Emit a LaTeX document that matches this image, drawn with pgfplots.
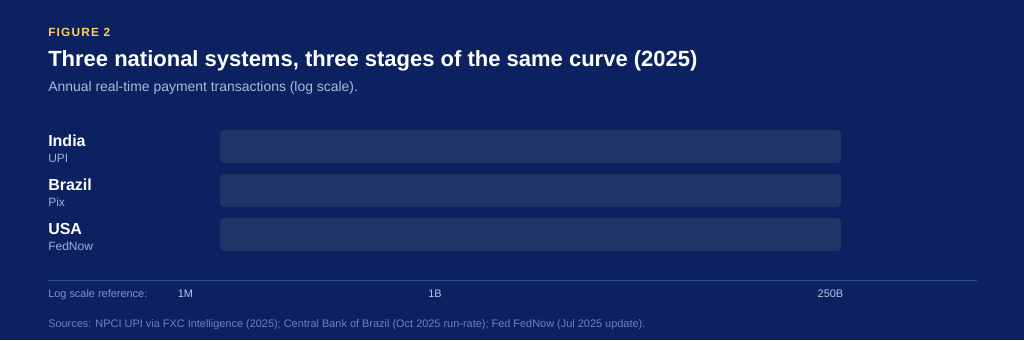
\documentclass[border=0pt]{standalone}
\usepackage{pgfplots}
\pgfplotsset{compat=1.18}
\usepackage{fontspec}
\setmainfont{Liberation Sans}
\definecolor{bg}{RGB}{12,33,96}
\definecolor{track}{RGB}{33,52,104}
\definecolor{fig}{RGB}{250,205,105}
\definecolor{sub}{RGB}{172,186,222}
\definecolor{lbl}{RGB}{160,176,215}
\definecolor{refc}{RGB}{130,148,198}
\definecolor{tickc}{RGB}{185,198,232}
\definecolor{src}{RGB}{112,130,185}
\definecolor{rule}{RGB}{52,78,140}
\begin{document}
\begin{tikzpicture}[x=0.75pt,y=-0.75pt]
\fill[bg] (0,0) rectangle (1024,340);
\begin{axis}[
  at={(165pt,-192.375pt)}, anchor=south west,
  scale only axis, width=465.75pt, height=99pt,
  xmin=0, xmax=100, ymin=-0.5, ymax=2.5, y dir=reverse,
  hide axis, clip=false,
]
\addplot[xbar, bar width=0.75, bar shift=0pt, fill=track, draw=none, rounded corners=3pt]
  coordinates {(100,0) (100,1) (100,2)};
\end{axis}
\node[anchor=base west, inner sep=0, text=fig, font=\bfseries\fontsize{8.9pt}{10pt}\selectfont\addfontfeature{LetterSpace=10}] at (48,36.7) {FIGURE 2};
\node[anchor=base west, inner sep=0, text=white, font=\bfseries\fontsize{16.5pt}{18pt}\selectfont] at (48,66.7) {Three national systems, three stages of the same curve (2025)};
\node[anchor=base west, inner sep=0, text=sub, font=\fontsize{10.45pt}{12pt}\selectfont] at (48,91) {Annual real-time payment transactions (log scale).};
\foreach \c/\s/\y in {India/UPI/146.7, Brazil/Pix/190.7, USA/FedNow/234.7} {
  \node[anchor=base west, inner sep=0, text=white, font=\bfseries\fontsize{12pt}{14pt}\selectfont] at (48,\y) {\c};
  \node[anchor=base west, inner sep=0, text=lbl, font=\fontsize{9pt}{11pt}\selectfont] at (48,\y+15.6) {\s};
}
\draw[rule, line width=0.75pt] (48,280.5) -- (977,280.5);
\node[anchor=base west, inner sep=0, text=refc, font=\fontsize{8.2pt}{9pt}\selectfont] at (48,297.7) {Log scale reference:};
\node[anchor=base, inner sep=0, text=tickc, font=\fontsize{8.2pt}{9pt}\selectfont] at (185.5,297.7) {1M};
\node[anchor=base, inner sep=0, text=tickc, font=\fontsize{8.2pt}{9pt}\selectfont] at (435,297.7) {1B};
\node[anchor=base, inner sep=0, text=tickc, font=\fontsize{8.2pt}{9pt}\selectfont] at (830.5,297.7) {250B};
\node[anchor=base west, inner sep=0, text=src, font=\fontsize{8.2pt}{9pt}\selectfont] at (48,327.3) {Sources: NPCI UPI via FXC Intelligence (2025); Central Bank of Brazil (Oct 2025 run-rate); Fed FedNow (Jul 2025 update).};
\end{tikzpicture}
\end{document}
